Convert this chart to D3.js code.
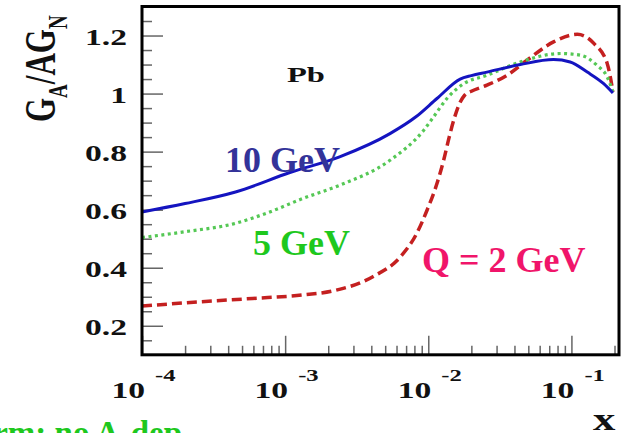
<!DOCTYPE html>
<html>
<head>
<script src="https://d3js.org/d3.v7.min.js"></script>
<style>
  body { margin: 0; background: #fff; }
  text { font-family: "Liberation Serif", "Times New Roman", serif; font-weight: bold; }
</style>
</head>
<body>
<script>
// values
var xBlue = [1e-4, 2e-4, 4.5e-4, 1.08e-3, 2.4e-3, 5.4e-3, 8.2e-3, 1.15e-2, 1.67e-2, 2.0e-2, 2.57e-2, 4.4e-2, 7.5e-2, 9.8e-2, 0.129, 0.168, 0.195];
var yBlue = [0.592, 0.621, 0.661, 0.728, 0.782, 0.862, 0.92, 0.983, 1.050, 1.062, 1.074, 1.100, 1.117, 1.109, 1.074, 1.034, 1.002];

var xGreen = [1e-4, 2e-4, 4.5e-4, 7.6e-4, 1.32e-3, 2.4e-3, 5.4e-3, 9.3e-3, 1.09e-2, 1.35e-2, 1.77e-2, 2.57e-2, 4.4e-2, 8.4e-2, 0.116, 0.151, 0.178, 0.195];
var yGreen = [0.504, 0.524, 0.553, 0.59, 0.638, 0.684, 0.770, 0.874, 0.920, 0.983, 1.034, 1.063, 1.109, 1.138, 1.132, 1.097, 1.057, 1.006];

var xRed = [1e-4, 2.6e-4, 5.9e-4, 1.32e-3, 2.2e-3, 4.1e-3, 6.4e-3, 8.3e-3, 9.8e-3, 1.15e-2, 1.28e-2, 1.4e-2, 1.52e-2, 1.65e-2, 1.8e-2, 2.0e-2, 2.57e-2, 3.55e-2, 4.9e-2, 7.5e-2, 0.11, 0.144, 0.178, 0.195];
var yRed = [0.268, 0.283, 0.294, 0.306, 0.321, 0.369, 0.438, 0.518, 0.598, 0.690, 0.770, 0.850, 0.915, 0.965, 0.995, 1.008, 1.029, 1.063, 1.115, 1.178, 1.204, 1.172, 1.103, 1.006];

var yTicks = [0.2, 0.4, 0.6, 0.8, 1, 1.2];
var yTickLabels = ["0.2", "0.4", "0.6", "0.8", "1", "1.2"];
var xDecades = [1e-4, 1e-3, 1e-2, 1e-1];
var xExponents = ["-4", "-3", "-2", "-1"];

var width = 623, height = 433;
var plotLeft = 142, plotRight = 619, plotTop = 6.5, plotBottom = 354.8;

var svg = d3.select("body").append("svg").attr("width", width).attr("height", height);

var x = d3.scaleLog().domain([1e-4, 0.215]).range([plotLeft, plotRight]);
var y = d3.scaleLinear().domain([0.1, 1.3]).range([plotBottom, plotTop]);

// minor ticks
var yMinor = [0.15, 0.25, 0.3, 0.35, 0.45, 0.5, 0.55, 0.65, 0.7, 0.75, 0.85, 0.9, 0.95, 1.05, 1.1, 1.15, 1.25];
var xMinor = [];
xDecades.forEach(function(d) {
  for (var k = 2; k <= 9; k++) { if (d * k <= 0.215) xMinor.push(d * k); }
});

var tickColor = "#666";
function styleTicks(g) {
  g.select(".domain").remove();
  g.selectAll("line").attr("stroke", tickColor).attr("stroke-width", 1.5);
}
svg.append("g").attr("transform", "translate(" + plotLeft + ",0)")
  .call(d3.axisRight(y).tickValues(yMinor).tickSize(10).tickFormat("")).call(styleTicks);
svg.append("g").attr("transform", "translate(" + plotLeft + ",0)")
  .call(d3.axisRight(y).tickValues(yTicks).tickSize(21).tickFormat("")).call(styleTicks);
svg.append("g").attr("transform", "translate(0," + plotBottom + ")")
  .call(d3.axisTop(x).tickValues(xMinor).tickSize(9).tickFormat("")).call(styleTicks);
svg.append("g").attr("transform", "translate(0," + plotBottom + ")")
  .call(d3.axisTop(x).tickValues(xDecades).tickSize(19).tickFormat("")).call(styleTicks);

// curves
var line = function(xs, ys) {
  return d3.line().x(function(d, i) { return x(xs[i]); }).y(function(d) { return y(d); }).curve(d3.curveMonotoneX)(ys);
};
svg.append("path").attr("d", line(xRed, yRed)).attr("fill", "none")
  .attr("stroke", "#c42020").attr("stroke-width", 3.5).attr("stroke-dasharray", "10,5");
svg.append("path").attr("d", line(xGreen, yGreen)).attr("fill", "none")
  .attr("stroke", "#55c855").attr("stroke-width", 3.2).attr("stroke-dasharray", "3,3.5");
svg.append("path").attr("d", line(xBlue, yBlue)).attr("fill", "none")
  .attr("stroke", "#1414c0").attr("stroke-width", 3);

// frame
svg.append("rect").attr("x", plotLeft).attr("y", plotTop).attr("width", plotRight - plotLeft).attr("height", plotBottom - plotTop)
  .attr("fill", "none").attr("stroke", "#000").attr("stroke-width", 3);

// y tick labels (stretched like the picture)
yTicks.forEach(function(v, i) {
  svg.append("g").attr("transform", "translate(127," + (y(v) + 9) + ") scale(1.4,1)")
    .append("text").attr("text-anchor", "end").attr("font-size", 24).attr("fill", "#111").text(yTickLabels[i]);
});

// x tick labels
xDecades.forEach(function(v, i) {
  var px = x(v);
  svg.append("g").attr("transform", "translate(" + (px + 3) + ",398) scale(1.4,1)")
    .append("text").attr("text-anchor", "end").attr("font-size", 24).attr("fill", "#111").text("10");
  svg.append("g").attr("transform", "translate(" + (px + 13) + ",381) scale(1.45,1)")
    .append("text").attr("font-size", 17).attr("fill", "#111").text(xExponents[i]);
});

// axis titles
svg.append("g").attr("transform", "translate(593,430) scale(1.4,1)")
  .append("text").attr("font-size", 32).attr("fill", "#111").text("x");

var yt = svg.append("g").attr("transform", "translate(55,122) rotate(-90) scale(1,1.45)")
  .append("text").attr("font-size", 31).attr("fill", "#111");
yt.append("tspan").text("G");
yt.append("tspan").attr("font-size", 19).attr("dy", 8).text("A");
yt.append("tspan").attr("dy", -8).text("/AG");
yt.append("tspan").attr("font-size", 19).attr("dy", 8).text("N");

svg.append("g").attr("transform", "translate(287,82) scale(1.55,1)")
  .append("text").attr("font-size", 21).attr("fill", "#111").text("Pb");

// slide labels
svg.append("text").attr("x", 225).attr("y", 172).attr("font-size", 36).attr("fill", "#333399").text("10 GeV");
svg.append("text").attr("x", 253).attr("y", 255).attr("font-size", 36).attr("fill", "#1ec81e").text("5 GeV");
svg.append("text").attr("x", 422).attr("y", 272).attr("font-size", 36).attr("fill", "#f0156a").text("Q = 2 GeV");
svg.append("text").attr("x", 182).attr("y", 444).attr("text-anchor", "end").attr("font-size", 33).attr("fill", "#1ec81e").text("Uniform: no A-dep");
</script>
</body>
</html>
